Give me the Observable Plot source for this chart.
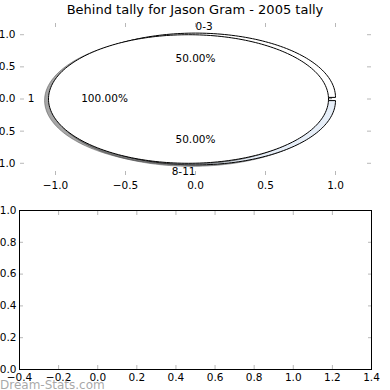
<!DOCTYPE html>
<html><head><meta charset="utf-8">
<script src="https://cdn.jsdelivr.net/npm/d3@7"></script>
<script src="https://cdn.jsdelivr.net/npm/@observablehq/plot@0.6"></script>
<style>
body{margin:0;background:#fff;}
#fig{position:relative;width:390px;height:390px;overflow:hidden;font-family:"DejaVu Sans",sans-serif;background:#fff;}
#title{position:absolute;left:0;top:2px;width:390px;text-align:center;font-size:13px;line-height:16px;color:#000;}
#wm{position:absolute;left:0;top:378px;font-size:12px;line-height:14px;color:rgba(140,140,140,0.75);}
#top,#bottom{position:absolute;left:0;}
#top{top:0}
#bottom{top:195px}
svg{overflow:visible}
</style></head><body>
<div id="fig"><div id="top"></div><div id="bottom"></div><div id="title"></div><div id="wm">Dream-Stats.com</div></div>
<script>
// ---- data ----
const chartTitle = "Behind tally for Jason Gram - 2005 tally";
const outerLabels = ["0-3", "8-11"];
const outerValues = [1, 1];
const outerExplode = [0.025, 0.025];
const innerLabels = ["1"];
const innerValues = [1];
const innerExplode = [0.05];
const pieXTicks = [-1, -0.5, 0, 0.5, 1];
const pieYTicks = [-1, -0.5, 0, 0.5, 1];
const emptyXTicks = [-0.4, -0.2, 0, 0.2, 0.4, 0.6, 0.8, 1.0, 1.2, 1.4];
const emptyYTicks = [0, 0.2, 0.4, 0.6, 0.8, 1.0];

// ---- styles ----
const outerColors = ["#ffffff", "#e6eef8"];
const innerColors = ["#ffffff"];
const tickGray = "#b8b8b8";
const FONT = "DejaVu Sans";
const shadowDX = -0.028, shadowDY = -0.022;

document.getElementById("title").textContent = chartTitle;

function layoutPie(labels, values, explode, colors) {
  const total = d3.sum(values);
  let t = 0;
  return labels.map((label, i) => {
    const t1 = t, t2 = t + 360 * values[i] / total; t = t2;
    const mid = (t1 + t2) / 2 * Math.PI / 180;
    const cx = explode[i] * Math.cos(mid), cy = explode[i] * Math.sin(mid);
    return {label, frac: values[i] / total, t1, t2, cx, cy, mid, color: colors[i]};
  });
}
function outline(w, dx, dy) {
  const pts = [];
  const full = w.t2 - w.t1 >= 359.999;
  const n = Math.max(16, Math.ceil((w.t2 - w.t1) / 1.5));
  if (!full) pts.push({x: w.cx + dx, y: w.cy + dy});
  for (let k = 0; k <= n; k++) {
    const a = (w.t1 + (w.t2 - w.t1) * k / n) * Math.PI / 180;
    pts.push({x: w.cx + dx + Math.cos(a), y: w.cy + dy + Math.sin(a)});
  }
  if (!full) pts.push({x: w.cx + dx, y: w.cy + dy});
  return pts;
}
function shadowColor(c) {
  const r = d3.rgb(c);
  return d3.rgb(r.r * 0.3, r.g * 0.3, r.b * 0.3).formatHex();
}

const outer = layoutPie(outerLabels, outerValues, outerExplode, outerColors);
const inner = layoutPie(innerLabels, innerValues, innerExplode, innerColors);
const wedges = [...outer, ...inner];

const wedgeMarks = [];
for (const w of wedges) {
  const sc = shadowColor(w.color);
  wedgeMarks.push(Plot.line(outline(w, shadowDX, shadowDY), {x: "x", y: "y", fill: sc, fillOpacity: 0.5, stroke: sc, strokeOpacity: 0.5, strokeWidth: 1, curve: "linear"}));
  wedgeMarks.push(Plot.line(outline(w, 0, 0), {x: "x", y: "y", fill: w.color, stroke: "#000", strokeWidth: 1, curve: "linear"}));
}

const labelRows = wedges.map(w => {
  const xt = w.cx + 1.1 * Math.cos(w.mid), yt = w.cy + 1.1 * Math.sin(w.mid);
  return {text: w.label, x: xt, y: yt, left: xt > 0};
});
const pctRows = wedges.map(w => ({text: d3.format(".2%")(w.frac), x: w.cx + 0.6 * Math.cos(w.mid), y: w.cy + 0.6 * Math.sin(w.mid)}));
const fmt1 = d3.format(".1f");

const topPlot = Plot.plot({
  width: 390, height: 195,
  marginLeft: 20, marginRight: 20, marginTop: 22, marginBottom: 20,
  x: {domain: [-1.25, 1.25], label: null},
  y: {domain: [-1.19, 1.19], label: null},
  style: {fontFamily: FONT, fontSize: "10.5px", background: "transparent", color: "#000"},
  marks: [
    ...wedgeMarks,
    Plot.text(labelRows.filter(d => d.left), {x: "x", y: "y", text: "text", textAnchor: "start", fill: "#000", fontSize: 10.5}),
    Plot.text(labelRows.filter(d => !d.left), {x: "x", y: "y", text: "text", textAnchor: "end", fill: "#000", fontSize: 10.5}),
    Plot.text(pctRows, {x: "x", y: "y", text: "text", textAnchor: "middle", fill: "#000", fontSize: 10.5}),
    Plot.axisX(pieXTicks, {anchor: "bottom", tickSize: -4, tickPadding: 10, tickFormat: fmt1, stroke: tickGray, fill: "#000", fontSize: 10.5}),
    Plot.axisX(pieXTicks, {anchor: "top", tickSize: -4, tickFormat: () => "", stroke: tickGray}),
    Plot.axisY(pieYTicks, {anchor: "left", tickSize: -4, tickPadding: 9, tickFormat: fmt1, stroke: tickGray, fill: "#000", fontSize: 10.5}),
    Plot.axisY(pieYTicks, {anchor: "right", tickSize: -4, tickFormat: () => "", stroke: tickGray})
  ]
});
document.getElementById("top").append(topPlot);

const bottomPlot = Plot.plot({
  width: 390, height: 195,
  marginLeft: 19, marginRight: 19, marginTop: 15, marginBottom: 21,
  x: {domain: [-0.4, 1.4], label: null},
  y: {domain: [0, 1], label: null},
  style: {fontFamily: FONT, fontSize: "10.5px", background: "transparent", color: "#000"},
  marks: [
    Plot.axisX(emptyXTicks, {anchor: "bottom", tickSize: -4, tickPadding: 8, tickFormat: fmt1, stroke: tickGray, fill: "#000", fontSize: 10.5}),
    Plot.axisX(emptyXTicks, {anchor: "top", tickSize: -4, tickFormat: () => "", stroke: tickGray}),
    Plot.axisY(emptyYTicks, {anchor: "left", tickSize: -4, tickPadding: 7, tickFormat: fmt1, stroke: tickGray, fill: "#000", fontSize: 10.5}),
    Plot.axisY(emptyYTicks, {anchor: "right", tickSize: -4, tickFormat: () => "", stroke: tickGray}),
    Plot.frame({stroke: "#000", strokeWidth: 1})
  ]
});
document.getElementById("bottom").append(bottomPlot);
</script>
</body></html>
